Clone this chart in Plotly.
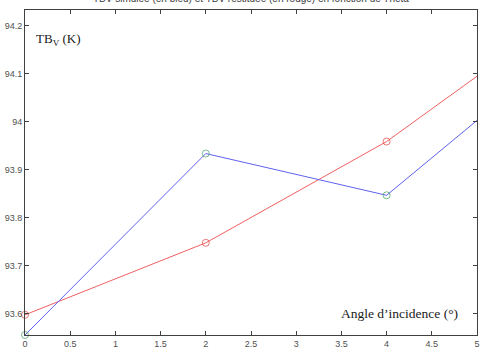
import plotly.graph_objects as go

theta = [0, 2, 4, 5]
tb_sim = [93.556, 93.934, 93.847, 94.003]
tb_res = [93.598, 93.748, 93.959, 94.095]
x_ticks = [0, 0.5, 1, 1.5, 2, 2.5, 3, 3.5, 4, 4.5, 5]
y_ticks = [93.6, 93.7, 93.8, 93.9, 94.0, 94.1, 94.2]
y_labels = ["93.6", "93.7", "93.8", "93.9", "94", "94.1", "94.2"]
x_labels = ["0", "0.5", "1", "1.5", "2", "2.5", "3", "3.5", "4", "4.5", "5"]
title_text = "TBV simulée (en bleu) et TBV restituée (en rouge) en fonction de Theta"

msizes = [7, 7, 7, 0]

fig = go.Figure()
fig.add_trace(go.Scatter(x=theta, y=tb_res, mode="lines",
                         line=dict(color="#f06060", width=1), cliponaxis=True))
fig.add_trace(go.Scatter(x=theta, y=tb_res, mode="markers",
                         marker=dict(symbol="circle-open", size=msizes, color="#e04040", line=dict(width=1)),
                         cliponaxis=False))
fig.add_trace(go.Scatter(x=theta, y=tb_sim, mode="lines",
                         line=dict(color="#6060f0", width=1), cliponaxis=True))
fig.add_trace(go.Scatter(x=theta, y=tb_sim, mode="markers",
                         marker=dict(symbol="circle-open", size=msizes, color="#40a060", line=dict(width=1)),
                         cliponaxis=False))

axis_common = dict(showgrid=False, zeroline=False, showline=True, mirror="ticks",
                   linecolor="#404040", linewidth=1, ticks="inside", ticklen=4,
                   tickcolor="#404040", tickfont=dict(family="Arial", size=9, color="#505050"))
fig.update_xaxes(range=[0, 5], tickvals=x_ticks, ticktext=x_labels, **axis_common)
fig.update_yaxes(range=[93.556, 94.233], tickvals=y_ticks, ticktext=y_labels, **axis_common)

fig.add_annotation(x=0.02, y=0.91, xref="paper", yref="paper", xanchor="left", yanchor="middle",
                   text="TB<sub>V</sub> (K)", showarrow=False,
                   font=dict(family="Liberation Serif", size=13, color="#202020"))
fig.add_annotation(x=0.962, y=0.065, xref="paper", yref="paper", xanchor="right", yanchor="middle",
                   text="Angle d\u2019incidence (\u00b0)", showarrow=False,
                   font=dict(family="Liberation Serif", size=13.5, color="#202020"))
fig.add_annotation(x=0.5, y=1, xref="paper", yref="paper", xanchor="center", yanchor="middle",
                   yshift=12, text=title_text, showarrow=False,
                   font=dict(family="Arial", size=10, color="#404040"))

fig.update_layout(
    width=484, height=353,
    margin=dict(l=25, r=4, t=10, b=16),
    paper_bgcolor="white", plot_bgcolor="white",
    showlegend=False,
)

fig.write_html("out.html")
